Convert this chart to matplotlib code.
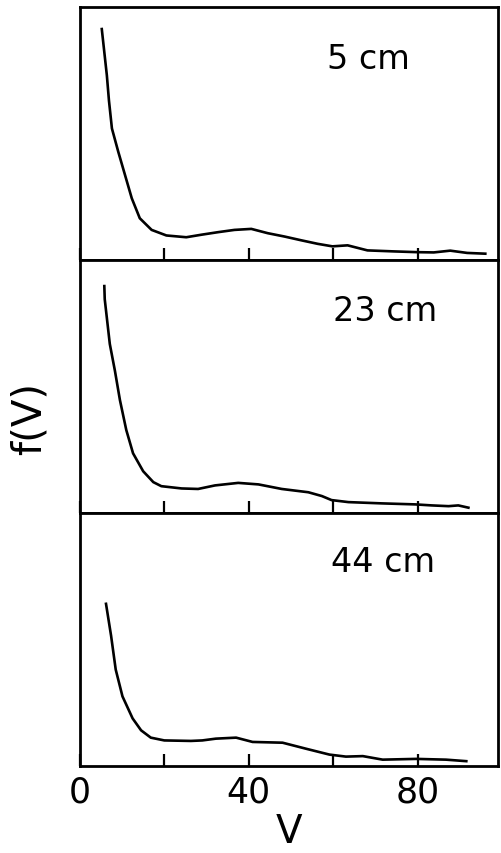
import matplotlib
matplotlib.use("Agg")
import matplotlib.pyplot as plt

# distance labels for the three panels
labels = ['5 cm', '23 cm', '44 cm']

# 5 cm curve (V, relative f)
v_5 = [5.2, 6.4, 6.9, 7.6, 9.1, 10.7, 12.3, 14.2, 17.0, 20.5, 25.2, 28.8,
       32.7, 36.6, 40.6, 44.5, 48.4, 52.4, 56.3, 59.8, 63.4, 68.1, 74.4,
       79.9, 83.8, 87.7, 91.7, 96.0]
f_5 = [0.913, 0.73, 0.63, 0.52, 0.428, 0.336, 0.244, 0.165, 0.119, 0.097,
       0.09, 0.10, 0.11, 0.119, 0.123, 0.106, 0.093, 0.078, 0.064, 0.054,
       0.058, 0.038, 0.034, 0.031, 0.03, 0.037, 0.028, 0.025]

# 23 cm curve
v_23 = [5.8, 5.9, 7.1, 8.3, 9.5, 11.0, 12.6, 15.0, 17.4, 19.3, 24.1, 28.0,
        32.0, 37.5, 42.3, 47.8, 54.1, 57.3, 59.6, 63.6, 71.5, 79.4, 83.3,
        87.3, 89.6, 92.0]
f_23 = [0.897, 0.845, 0.668, 0.563, 0.446, 0.328, 0.236, 0.165, 0.122, 0.106,
        0.097, 0.095, 0.109, 0.119, 0.113, 0.095, 0.082, 0.067, 0.051, 0.043,
        0.038, 0.034, 0.030, 0.027, 0.030, 0.021]

# 44 cm curve
v_44 = [6.2, 7.4, 8.5, 10.1, 12.5, 14.5, 16.8, 20.0, 26.3, 29.0, 32.2, 37.0,
        40.9, 48.0, 53.6, 59.1, 63.0, 67.0, 71.7, 79.6, 86.7, 91.5]
f_44 = [0.641, 0.515, 0.381, 0.275, 0.188, 0.141, 0.112, 0.101, 0.099, 0.101,
        0.108, 0.112, 0.095, 0.092, 0.068, 0.045, 0.037, 0.039, 0.025, 0.028,
        0.025, 0.019]

curves = [(v_5, f_5), (v_23, f_23), (v_44, f_44)]
label_pos = [(0.69, 0.795), (0.73, 0.80), (0.725, 0.81)]

fig, axes = plt.subplots(3, 1, sharex=True, figsize=(5.02, 8.54), dpi=100)
fig.subplots_adjust(left=0.159, right=0.992, top=0.9906, bottom=0.1019, hspace=0)

for ax, (v, f), lab, (tx, ty) in zip(axes, curves, labels, label_pos):
    ax.plot(v, f, color='black', lw=1.9, solid_joinstyle='round')
    ax.set_xlim(0, 99)
    ax.set_ylim(0, 1)
    ax.set_yticks([])
    ax.set_xticks([0, 20, 40, 60, 80])
    ax.tick_params(axis='x', direction='in', length=9, width=1.6, labelbottom=False)
    for s in ax.spines.values():
        s.set_linewidth(2.0)
    ax.text(tx, ty, lab, transform=ax.transAxes, fontsize=24, ha='center', va='center')

axes[-1].tick_params(axis='x', labelbottom=True, labelsize=25, pad=6)
axes[-1].set_xticklabels(['0', '', '40', '', '80'])
axes[-1].set_xlabel('V', fontsize=28, labelpad=3)

fig.text(0.06, 0.51, 'f(V)', rotation=90, fontsize=29, ha='center', va='center')

plt.savefig('out.png', dpi=100)
